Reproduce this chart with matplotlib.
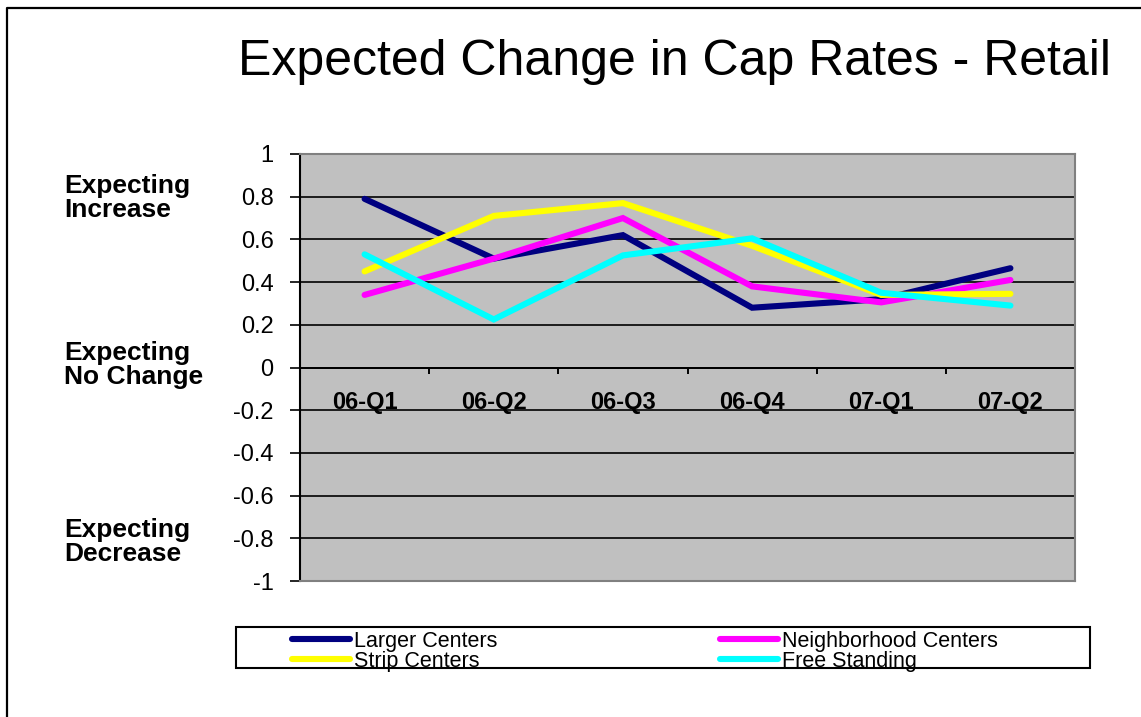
import numpy as np
import matplotlib
matplotlib.use("Agg")
import matplotlib.pyplot as plt
from matplotlib.lines import Line2D
from matplotlib.patches import Rectangle

plt.rcParams['font.family'] = ['Liberation Sans', 'DejaVu Sans']

categories = ['06-Q1', '06-Q2', '06-Q3', '06-Q4', '07-Q1', '07-Q2']
larger_centers = [0.79, 0.51, 0.62, 0.28, 0.32, 0.465]
neighborhood_centers = [0.34, 0.51, 0.70, 0.38, 0.305, 0.41]
strip_centers = [0.45, 0.71, 0.77, 0.57, 0.34, 0.345]
free_standing = [0.53, 0.225, 0.525, 0.605, 0.35, 0.29]

series = [
    ('Larger Centers', larger_centers, '#000080'),
    ('Neighborhood Centers', neighborhood_centers, '#FF00FF'),
    ('Strip Centers', strip_centers, '#FFFF00'),
    ('Free Standing', free_standing, '#00FFFF'),
]

W, H = 1141, 717
fig = plt.figure(figsize=(W / 100, H / 100), dpi=100)


def fx(px):
    return px / W


def fy(py):
    return 1 - py / H


# outer chart border (only left and top visible)
fig.add_artist(Line2D([fx(7), fx(7), fx(W + 5)], [fy(H + 5), fy(8), fy(8)],
                      color='black', lw=1.6, transform=fig.transFigure))

ax = fig.add_axes([fx(300), fy(581), fx(1075) - fx(300), fy(154) - fy(581)])
ax.set_facecolor('#C0C0C0')
ax.set_xlim(0, 6)
ax.set_ylim(-1, 1)

yt = np.round(np.arange(-1, 1.01, 0.2), 1)
ax.set_yticks(yt)
ax.set_yticklabels(['0' if v == 0 else ('%g' % v) for v in yt], fontsize=17)
ax.tick_params(axis='y', direction='out', length=7, width=1.2, pad=12, color='black')
ax.set_xticks([])
for v in yt:
    ax.axhline(v, color='black', lw=1.2, zorder=1)

for s in ['top', 'right', 'bottom']:
    ax.spines[s].set_color('#808080')
    ax.spines[s].set_linewidth(1.5)
ax.spines['left'].set_color('black')
ax.spines['left'].set_linewidth(1.5)

# category axis sits at y = 0
ax.axhline(0, color='black', lw=1.4, zorder=2)
ax.vlines(np.arange(1, 6), -0.03, 0, color='black', lw=1.4, zorder=2)
for i, c in enumerate(categories):
    ax.text(i + 0.5, -0.165, c, ha='center', va='center', fontsize=17,
            fontweight='bold', zorder=3)

x = np.arange(len(categories)) + 0.5
for name, vals, col in series:
    ax.plot(x, vals, color=col, lw=4.4, label=name, solid_capstyle='round',
            solid_joinstyle='miter', zorder=4)

fig.text(fx(675), fy(62), 'Expected Change in Cap Rates - Retail',
         ha='center', va='center', fontsize=36)

for txt, yy in [('Expecting\nIncrease', 198), ('Expecting\nNo Change', 365),
                ('Expecting\nDecrease', 542)]:
    fig.text(fx(64), fy(yy), txt, ha='left', va='center', fontsize=19,
             fontweight='bold', linespacing=0.95)

# legend
fig.add_artist(Rectangle((fx(236), fy(668)), fx(1090) - fx(236), fy(627) - fy(668),
                         fill=False, edgecolor='black', lw=1.5,
                         transform=fig.transFigure))
handles, labels = ax.get_legend_handles_labels()
order = [0, 2, 1, 3]
fig.legend([handles[i] for i in order], [labels[i] for i in order],
           ncol=2, frameon=False, loc='upper left',
           bbox_to_anchor=(fx(279), fy(618)), fontsize=15.5,
           handlelength=2.7, handletextpad=0.18, columnspacing=10.35,
           labelspacing=-0.05, borderpad=0.1)

fig.savefig('out.png', dpi=100)
